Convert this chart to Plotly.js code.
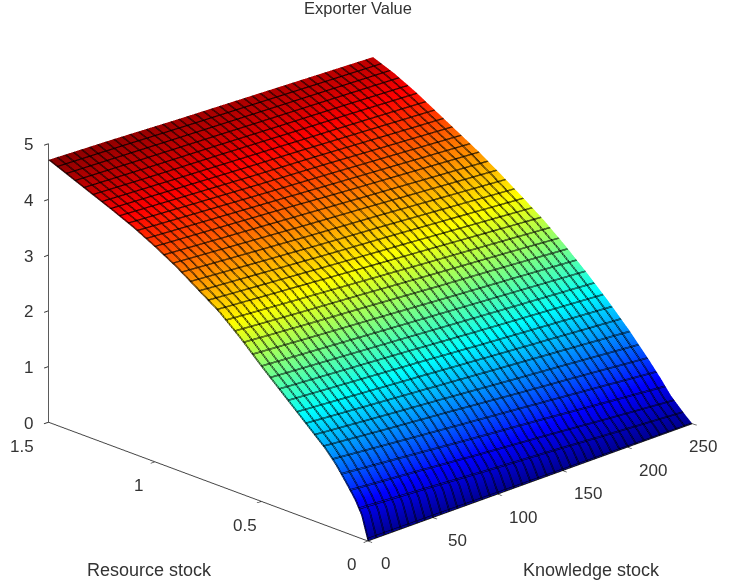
<!DOCTYPE html>
<html><head><meta charset="utf-8">
<script src="https://cdn.plot.ly/plotly-3.0.1.min.js"></script>
<style>html,body{margin:0;padding:0;background:#fff}#c{width:732px;height:587px}</style>
</head><body><div id="c"></div>
<script>
const knowledge=[0,50,100,150,200,250];
const resource=[0,0.03,0.06,0.1,0.15,0.2,0.3,0.4,0.5,0.6,0.7,0.8,0.9,1.0,1.1,1.2,1.3,1.4,1.5];
const zK0  =[0,0.42,0.65,0.88,1.15,1.37,1.72,2.07,2.42,2.79,3.12,3.38,3.64,3.86,4.06,4.23,4.39,4.55,4.71];
const zK50 =[0,0.36,0.56,0.78,1.04,1.26,1.63,1.99,2.34,2.70,3.03,3.29,3.55,3.78,3.98,4.16,4.33,4.50,4.66];
const zK100=[0,0.29,0.47,0.67,0.93,1.16,1.54,1.91,2.26,2.62,2.94,3.20,3.46,3.70,3.90,4.09,4.28,4.45,4.60];
const zK150=[0,0.23,0.39,0.57,0.83,1.05,1.45,1.82,2.18,2.53,2.85,3.12,3.38,3.61,3.83,4.03,4.22,4.40,4.55];
const zK200=[0,0.16,0.30,0.46,0.72,0.95,1.36,1.74,2.10,2.45,2.76,3.03,3.29,3.53,3.75,3.96,4.17,4.35,4.50];
const zK250=[0,0.10,0.21,0.36,0.61,0.84,1.27,1.66,2.02,2.36,2.67,2.94,3.20,3.45,3.67,3.89,4.11,4.30,4.45];
const zRows=resource.map((_,i)=>[zK0,zK50,zK100,zK150,zK200,zK250].map(c=>c[i]));
const zTicks=[0,1,2,3,4,5];
const rTicks=[0,0.5,1,1.5];
const kTicks=[0,50,100,150,200,250];
const kLineOffsets=[0,0.8];
const rLineOffsets=[0,0.003];
const jet=[[0,'#00008f'],[0.125,'#0000ff'],[0.375,'#00ffff'],[0.625,'#ffff00'],[0.875,'#ff0000'],[1,'#800000']];
const font={family:'Liberation Sans, Arial, sans-serif',size:17,color:'#333'};
const base=(t)=>({text:String(t),showarrow:false,font:font});
const ann=[];
zTicks.forEach(v=>ann.push({...base(v),x:0,y:1.5,z:v,xshift:-20,yshift:-1}));
rTicks.forEach(v=>ann.push({...base(v),x:0,y:v,z:0,xshift:v===1.5?-26:-16,yshift:-24}));
kTicks.forEach(v=>ann.push({...base(v),x:v,y:0,z:0,xshift:v===250?11:(v===0?18:25),yshift:-23}));
const axis={showgrid:false,zeroline:false,showbackground:false,showline:true,linecolor:'#444',linewidth:2,
  ticks:'outside',ticklen:6,tickcolor:'#333',tickwidth:2,showticklabels:false,showspikes:false,title:{text:''}};
const data=kLineOffsets.map((o,i)=>({type:'surface',x:knowledge,y:resource,z:zRows,colorscale:jet,cmin:0,cmax:4.75,showscale:false,
  hoverinfo:'skip',
  lighting:{ambient:1,diffuse:0,specular:0,roughness:1,fresnel:0},
  contours:{x:{show:true,start:o,end:250,size:6.25,color:'#000',width:2,highlight:false},
            y:{show:true,start:rLineOffsets[i],end:1.5,size:0.041667,color:'#000',width:2,highlight:false},
            z:{highlight:false}}}));
const labelFont={...font,size:18};
const layout={width:732,height:587,margin:{l:0,r:0,t:0,b:0},paper_bgcolor:'#fff',showlegend:false,
  title:{text:'Exporter Value',font:{...font,size:16.5},x:358/732,xanchor:'center',y:0.986,yanchor:'middle'},
  annotations:[
    {...base('Resource stock'),font:labelFont,xref:'paper',yref:'paper',x:149/732,y:1-570/587,xanchor:'center',yanchor:'middle'},
    {...base('Knowledge stock'),font:labelFont,xref:'paper',yref:'paper',x:591/732,y:1-570/587,xanchor:'center',yanchor:'middle'}],
  scene:{domain:{x:[0,1],y:[0,1]},
    xaxis:{...axis,range:[0,250],tickvals:kTicks},
    yaxis:{...axis,range:[0,1.5],tickvals:rTicks},
    zaxis:{...axis,range:[0,5],tickvals:zTicks},
    aspectmode:'manual',aspectratio:{x:1.553,y:1.55,z:1.02},
    camera:{projection:{type:'orthographic'},eye:{x:-1.5,y:-1.5,z:0.8},center:{x:-0.0107,y:0.0107,z:-0.036},up:{x:0,y:0,z:1}},
    annotations:ann}};
Plotly.newPlot('c',data,layout,{displayModeBar:false});
</script></body></html>
